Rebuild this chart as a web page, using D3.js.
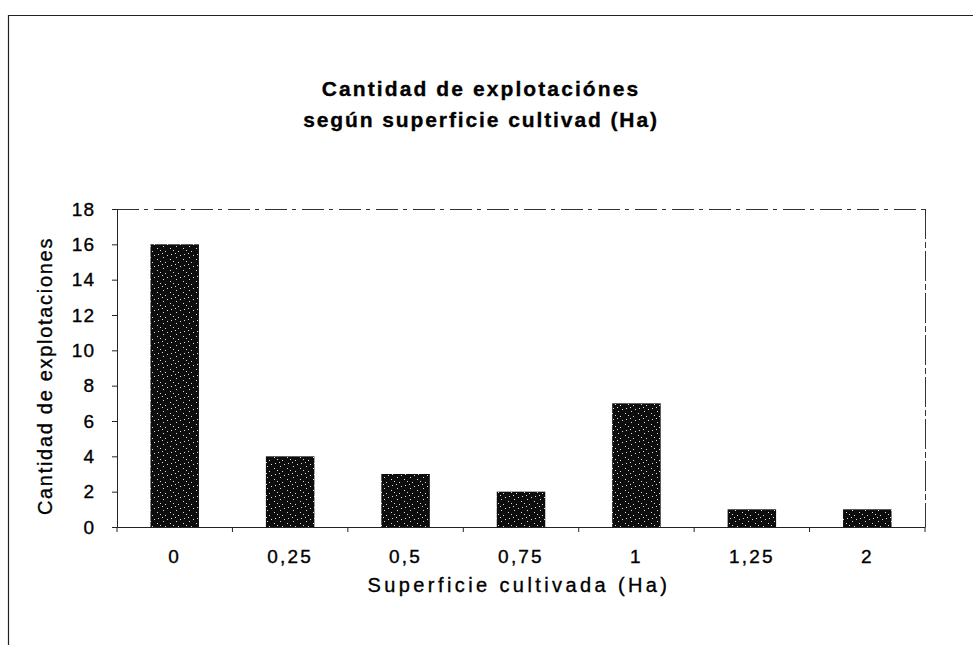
<!DOCTYPE html>
<html><head><meta charset="utf-8">
<script src="https://cdn.jsdelivr.net/npm/d3@7"></script>
<style>
html,body{margin:0;padding:0;background:#fff;}
text{font-family:"Liberation Sans",Arial,sans-serif;fill:#000;}
</style></head>
<body>
<svg id="chart" width="973" height="645"></svg>
<script>
const categories = ["0","0,25","0,5","0,75","1","1,25","2"];
const values = [16,4,3,2,7,1,1];
const yTicks = [0,2,4,6,8,10,12,14,16,18];
const titleLines = ["Cantidad de explotaciónes","según superficie cultivad (Ha)"];
const xLabel = "Superficie cultivada (Ha)";
const yLabel = "Cantidad de explotaciones";

const svg = d3.select("#chart");
const plot = {left:117, right:925, top:209, bottom:527};

// speckle pattern for bars
const defs = svg.append("defs");
const pat = defs.append("pattern").attr("id","speck").attr("patternUnits","userSpaceOnUse")
  .attr("width",13).attr("height",11);
pat.append("rect").attr("width",13).attr("height",11).attr("fill","#0d0d0d");
[[2,1],[7,4],[11,2],[4,8],[9,9],[1,6],[6,0]].forEach(([x,y])=>
  pat.append("rect").attr("x",x).attr("y",y).attr("width",1).attr("height",1).attr("fill","#ddd"));

// outer border
svg.append("path").attr("d","M8.5,645 V15.5 H973").attr("fill","none").attr("stroke","#222").attr("stroke-width",1.2);

const x = d3.scaleBand().domain(categories).range([plot.left, plot.right]).paddingInner(0.58).paddingOuter(0.29);
const y = d3.scaleLinear().domain([0,18]).range([plot.bottom, plot.top]);

// plot frame top/right
svg.append("line").attr("x1",plot.left).attr("x2",plot.right).attr("y1",plot.top+0.5).attr("y2",plot.top+0.5)
  .attr("stroke","#333").attr("stroke-dasharray","22 5 4 6");
svg.append("line").attr("x1",plot.right+0.5).attr("x2",plot.right+0.5).attr("y1",plot.top).attr("y2",plot.bottom)
  .attr("stroke","#333").attr("stroke-dasharray","30 3 6 3");

// bars
svg.append("g").selectAll("rect").data(values).join("rect")
  .attr("x",(d,i)=>x(categories[i]))
  .attr("width",x.bandwidth())
  .attr("y",d=>y(d))
  .attr("height",d=>y(0)-y(d))
  .attr("fill","url(#speck)");

const heavy = sel => sel.attr("stroke","#000").attr("stroke-width",0.35);

// y axis
const yAxis = svg.append("g").attr("transform",`translate(${plot.left},0)`)
  .call(d3.axisLeft(y).tickValues(yTicks).tickSize(5).tickPadding(17).tickFormat(d3.format("d")));
yAxis.select(".domain").attr("stroke","#222");
yAxis.selectAll(".tick line").attr("stroke","#222");
yAxis.selectAll("text").attr("font-size",19).attr("letter-spacing",1).style("font-family","Liberation Sans, Arial, sans-serif").call(heavy);

// x axis
const boundaries = d3.range(categories.length+1).map(i=>plot.left + i*(plot.right-plot.left)/categories.length);
const xAxis = svg.append("g").attr("transform",`translate(0,${plot.bottom})`)
  .call(d3.axisBottom(x).tickSize(0).tickPadding(23));
xAxis.select(".domain").attr("stroke","#222");
xAxis.selectAll("text").attr("font-size",19).attr("letter-spacing",2.2).style("font-family","Liberation Sans, Arial, sans-serif").call(heavy);
xAxis.selectAll(".bt").data(boundaries).join("line").attr("class","bt")
  .attr("x1",d=>d).attr("x2",d=>d).attr("y1",0).attr("y2",5).attr("stroke","#222");

// title
svg.append("text").attr("x",481).attr("y",96).attr("text-anchor","middle")
  .attr("font-size",21).attr("font-weight","bold").attr("letter-spacing",2.1).text(titleLines[0]).call(heavy);
svg.append("text").attr("x",481).attr("y",127).attr("text-anchor","middle")
  .attr("font-size",21).attr("font-weight","bold").attr("letter-spacing",1.9).text(titleLines[1]).call(heavy);

// axis labels
svg.append("text").attr("x",519).attr("y",592).attr("text-anchor","middle")
  .attr("font-size",20).attr("letter-spacing",3.4).text(xLabel).call(heavy);
svg.append("text").attr("transform","translate(52,376) rotate(-90)").attr("text-anchor","middle")
  .attr("font-size",20).attr("letter-spacing",1.7).text(yLabel).call(heavy);
</script>
</body></html>
